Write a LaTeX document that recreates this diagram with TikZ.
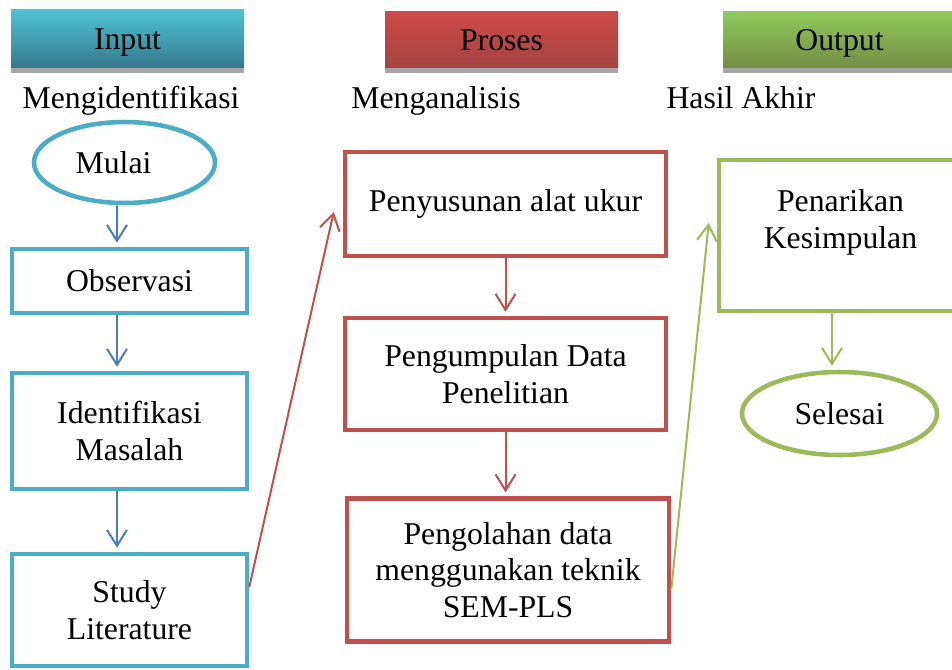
\documentclass[tikz,border=0pt]{standalone}
\usepackage{fontspec}
\setmainfont{Liberation Serif}
\usetikzlibrary{shapes.geometric,arrows.meta}

\definecolor{inblue}{HTML}{4BACC6}
\definecolor{arblue}{HTML}{4A7EBB}
\definecolor{prored}{HTML}{C0504D}
\definecolor{outgreen}{HTML}{9BBB59}
\definecolor{barshadow}{HTML}{A6A6A6}

\begin{document}
\begin{tikzpicture}[x=0.75pt, y=-0.75pt,
    font=\fontsize{23.8}{27.6}\selectfont,
    head/.style = {rectangle, minimum width=174.75pt, minimum height=42.75pt, inner sep=0pt, text height=21.5pt, text depth=5pt},
    inbox/.style = {rectangle, draw=inblue, line width=3.4pt, minimum width=176.25pt, align=center, inner sep=0pt},
    probox/.style = {rectangle, draw=prored, line width=3.4pt, minimum width=240.75pt, align=center, inner sep=0pt},
    outbox/.style = {rectangle, draw=outgreen, line width=3.4pt, align=center, inner sep=0pt},
    oval/.style = {ellipse, line width=3.4pt, inner sep=0pt},
    arr/.style = {-{Straight Barb[length=12pt, width=15pt, line width=1.5pt]}, line width=1.5pt, shorten >=3pt}]
            \clip (0,0) rectangle (952,669);

            % headers
            \node[head, minimum height=44.25pt, top color=inblue!80!cyan!90!white, bottom color=inblue!70!black] (inhead) at (127.5, 38.5) {Input};
            \node[head, top color=prored!80!red!95!white, bottom color=prored!85!black] (prohead) at (501.5, 39.5) {Proses};
            \node[head, top color=outgreen!85!green!90!white, bottom color=outgreen!75!black] (outhead) at (839.5, 39.5) {Output};
            \fill[barshadow] (inhead.south west) rectangle ([yshift=-3.75pt]inhead.south east);
            \fill[barshadow] (prohead.south west) rectangle ([yshift=-3.75pt]prohead.south east);
            \fill[barshadow] (outhead.south west) rectangle ([yshift=-3.75pt]outhead.south east);

            \node[anchor=base] (inlabel) at (131, 108) {Mengidentifikasi};
            \node[anchor=base] (prolabel) at (436, 108) {Menganalisis};
            \node[anchor=base] (outlabel) at (741, 108) {Hasil Akhir};

            % input
            \node[oval, draw=inblue, minimum width=135.75pt, minimum height=60.75pt] (mulai) at (124.5, 162.5) {Mulai\kern16.5pt};
            \node[inbox, minimum height=48pt] (obs) at (129.5, 281) {Observasi};
            \node[inbox, minimum height=87pt] (ident) at (129.5, 431) {Identifikasi\\Masalah};
            \node[inbox, minimum height=84pt] (study) at (129.5, 610) {Study\\Literature};

            \draw[arr, arblue] ([xshift=-5.6pt]mulai.south) -- ([xshift=-9.4pt]obs.north);
            \draw[arr, arblue] ([xshift=-9.4pt]obs.south) -- ([xshift=-9.4pt]ident.north);
            \draw[arr, arblue] ([xshift=-9.4pt]ident.south) -- ([xshift=-9.4pt]study.north);

            % proses
            \node[probox, minimum height=78pt] (susun) at (505.5, 204) {Penyusunan alat ukur};
            \node[probox, minimum height=84pt] (kumpul) at (505.5, 374) {Pengumpulan Data\\Penelitian};
            \node[probox, minimum width=241.5pt, minimum height=107.25pt] (olah) at (508, 570) {Pengolahan data\\menggunakan teknik\\SEM-PLS};

            \draw[arr, prored] (susun) -- (kumpul);
            \draw[arr, prored] (kumpul.south) -- (kumpul.south |- olah.north);
            \draw[arr, prored, shorten >=0pt] ([yshift=17.25pt]study.east) -- ([xshift=-6.75pt, yshift=-6pt]susun.west);

            % output
            \node[outbox, minimum width=182.25pt, minimum height=113.25pt] (tarik) at (840.5, 235.5) {Penarikan\\Kesimpulan\\[-10.5pt]\strut};
            \node[oval, draw=outgreen, minimum width=146.25pt, minimum height=62.25pt] (selesai) at (839.5, 413.5) {Selesai};

            \draw[arr, outgreen] ([xshift=-6.4pt]tarik.south) -- ([xshift=-6.4pt]tarik.south |- selesai.north);
            \draw[arr, outgreen, shorten >=0pt] ([yshift=-14.5pt]olah.east) -- ([xshift=-6pt, yshift=9.4pt]tarik.west);
        \end{tikzpicture}
\end{document}
